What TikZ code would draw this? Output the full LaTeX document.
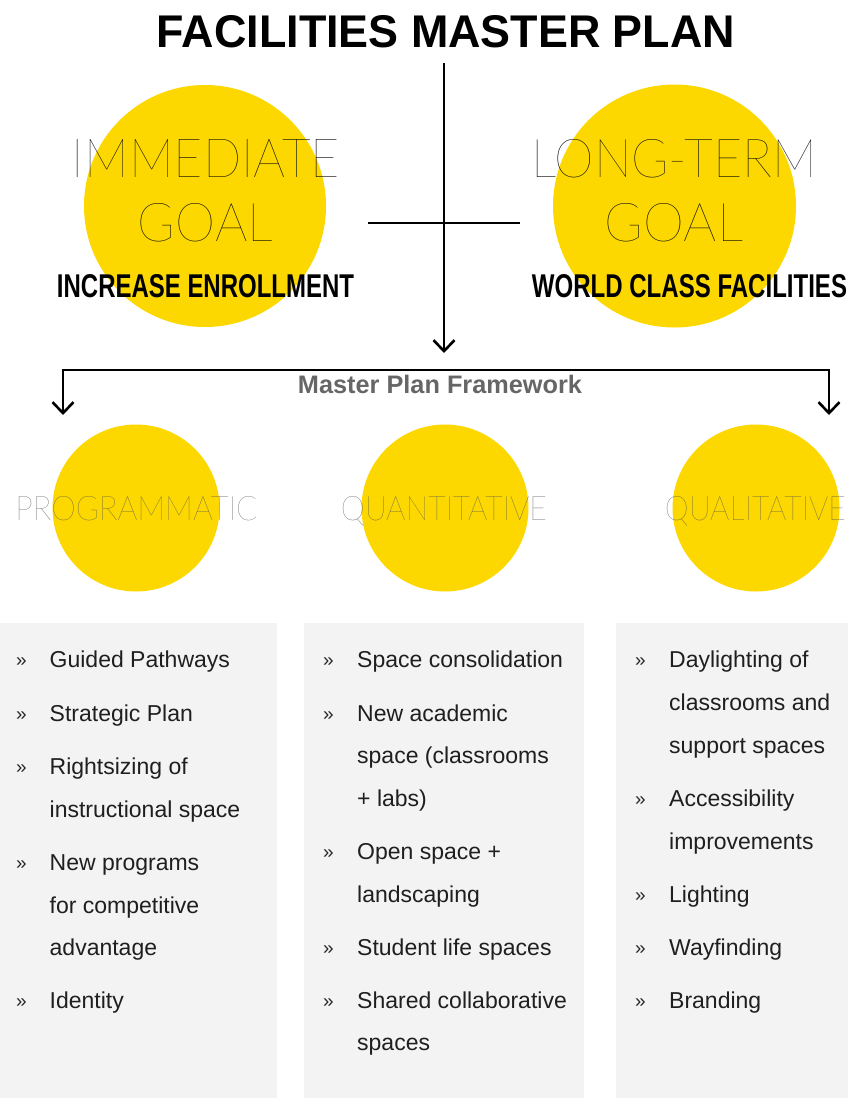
\documentclass[tikz,border=0pt]{standalone}
\usepackage{fontspec}
\usepackage{graphicx}
\setmainfont{Liberation Sans}
\IfFontExistsTF{Lato Thin}{\newfontfamily\thinfont{Lato Thin}}{%
 \IfFontExistsTF{Lato Hairline}{\newfontfamily\thinfont{Lato Hairline}}{%
  \IfFontExistsTF{Fira Sans Thin}{\newfontfamily\thinfont{Fira Sans Thin}}{%
   \IfFontExistsTF{Fira Sans ExtraLight}{\newfontfamily\thinfont{Fira Sans ExtraLight}}{%
    \IfFontExistsTF{Lato Light}{\newfontfamily\thinfont{Lato Light}}{%
     \newfontfamily\thinfont{Liberation Sans}}}}}}
\usetikzlibrary{arrows.meta}
\definecolor{goldy}{RGB}{252,216,0}
\definecolor{panel}{RGB}{243,243,243}
\definecolor{labgray}{RGB}{80,80,80}
\definecolor{fwgray}{RGB}{102,102,102}
\newcommand{\fitbox}[3]{\resizebox{#1pt}{#2pt}{#3}}
\tikzset{
  disc/.style={circle, fill=goldy, inner sep=0pt, minimum size=#1},
  txt/.style={inner sep=0pt, anchor=base},
  conn/.style={line width=2.8pt, black},
  barb/.tip={Straight Barb[length=11pt,width=21pt,line width=2.6pt]},
  tip/.style={-barb},
  panelbox/.style={fill=panel, draw=none},
  item/.style={inner sep=0pt, anchor=base west, font=\fontsize{23}{23}\selectfont, text=black!88},
  bul/.style={inner sep=0pt, anchor=base west, font=\fontsize{19}{19}\selectfont, text=black!85}
}
\begin{document}
\begin{tikzpicture}[x=1pt,y=-1pt]
\useasboundingbox (0,0) rectangle (848,1098);
% title
\node[txt] (title) at (446,47) {\fitbox{578}{32}{\bfseries FACILITIES MASTER PLAN}};
% top circles
\node[disc=242pt] (c1) at (205,206) {};
\node[disc=243pt] (c2) at (674.5,206) {};
\node[txt] (imm) at (206,177) {\fitbox{268}{38}{\thinfont IMMEDIATE}};
\node[txt] (goal1) at (205.5,241) {\fitbox{135}{38}{\thinfont GOAL}};
\node[txt] (inc) at (205.5,297) {\fitbox{297}{23}{\bfseries INCREASE ENROLLMENT}};
\node[txt] (lt) at (674.5,177) {\fitbox{285}{38}{\thinfont LONG-TERM}};
\node[txt] (goal2) at (674,241) {\fitbox{138}{38}{\thinfont GOAL}};
\node[txt] (wcf) at (689.5,297) {\fitbox{315}{23}{\bfseries WORLD CLASS FACILITIES}};
% cross
\coordinate (vtop) at (444,63);
\coordinate (vbot) at (444,353);
\coordinate (hl) at (368,223);
\coordinate (hr) at (520,223);
\draw[conn, tip] (vtop) -- (vbot);
\draw[conn] (hl) -- (hr);
% framework bracket
\coordinate (bl) at (63,415);
\coordinate (br) at (829,415);
\coordinate (blc) at (63,370);
\coordinate (brc) at (829,370);
\draw[conn, barb-barb] (bl) -- (blc) -- (brc) -- (br);
\node[txt, text=fwgray] (fw) at (440,393) {\fontsize{25.3}{25.3}\selectfont\bfseries Master Plan Framework};
% bottom circles
\node[disc=167pt] (p1) at (136,508) {};
\node[disc=167pt] (p2) at (445,508) {};
\node[disc=167pt] (p3) at (756,508) {};
\node[txt, text=labgray] (l1) at (136.5,520) {\fitbox{242}{24}{\thinfont PROGRAMMATIC}};
\node[txt, text=labgray] (l2) at (444,520) {\fitbox{206}{24}{\thinfont QUANTITATIVE}};
\node[txt, text=labgray] (l3) at (755.5,520) {\fitbox{181}{24}{\thinfont QUALITATIVE}};
% panels
\fill[panelbox] (0,623) rectangle (277,1098);
\fill[panelbox] (304,623) rectangle (584,1098);
\fill[panelbox] (616,623) rectangle (848,1098);
% left list
\foreach \n/\y in {a/667,b/721,c/774,d/870,e/1008}{\node[bul] (lb\n) at (16,\y-1) {»};}
\node[item] (li1) at (49.5,667) {Guided Pathways};
\node[item] (li2) at (49.5,721) {Strategic Plan};
\node[item] (li3) at (49.5,774) {Rightsizing of};
\node[item] (li3b) at (49.5,817) {instructional space};
\node[item] (li4) at (49.5,870) {New programs};
\node[item] (li4b) at (49.5,913) {for competitive};
\node[item] (li4c) at (49.5,955) {advantage};
\node[item] (li5) at (49.5,1008) {Identity};
% middle list
\foreach \n/\y in {a/667,b/721,c/859,d/955,e/1008}{\node[bul] (mb\n) at (323,\y-1) {»};}
\node[item] (mi1) at (357,667) {Space consolidation};
\node[item] (mi2) at (357,721) {New academic};
\node[item] (mi2b) at (357,763) {space (classrooms};
\node[item] (mi2c) at (357,806) {+ labs)};
\node[item] (mi3) at (357,859) {Open space +};
\node[item] (mi3b) at (357,902) {landscaping};
\node[item] (mi4) at (357,955) {Student life spaces};
\node[item] (mi5) at (357,1008) {Shared collaborative};
\node[item] (mi5b) at (357,1050) {spaces};
% right list
\foreach \n/\y in {a/667,b/806,c/902,d/955,e/1008}{\node[bul] (rb\n) at (635,\y-1) {»};}
\node[item] (ri1) at (669,667) {Daylighting of};
\node[item] (ri1b) at (669,710) {classrooms and};
\node[item] (ri1c) at (669,753) {support spaces};
\node[item] (ri2) at (669,806) {Accessibility};
\node[item] (ri2b) at (669,849) {improvements};
\node[item] (ri3) at (669,902) {Lighting};
\node[item] (ri4) at (669,955) {Wayfinding};
\node[item] (ri5) at (669,1008) {Branding};
\end{tikzpicture}
\end{document}
